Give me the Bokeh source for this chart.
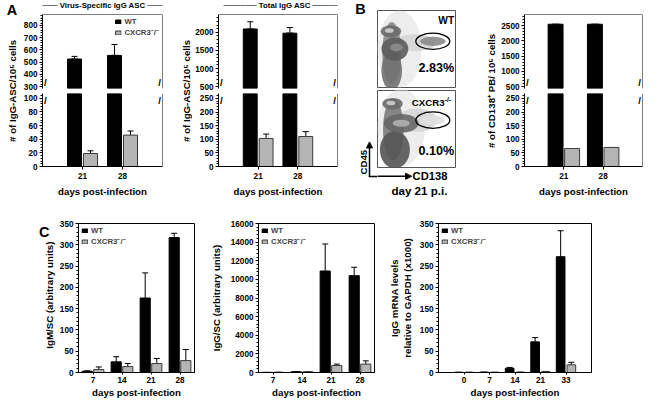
from bokeh.plotting import figure
from bokeh.models import (Range1d, FixedTicker, SingleIntervalTicker, Span, Label, Whisker,
                          TeeHead, Legend, LegendItem, ColumnDataSource, Arrow, NormalHead)
from bokeh.layouts import row, column
from bokeh.transform import dodge
from bokeh.embed import file_html
from bokeh.resources import INLINE

# ---------------- data ----------------
days_A = ["21", "28"]
a1_wt = [525, 555]
a1_wt_err = [22, 89]
a1_ko = [19, 46]
a1_ko_err = [4, 6]

a2_wt = [2090, 1975]
a2_wt_err = [200, 155]
a2_ko = [103, 110]
a2_ko_err = [16, 18]

b_wt = [2550, 2550]
b_ko = [66, 70]

flow_groups = ["WT", "CXCR3"]
flow_pct = ["2.83%", "0.10%"]

days_C = ["7", "14", "21", "28"]
c1_wt = [3, 25, 175, 317]
c1_wt_err = [1, 12, 59, 10]
c1_ko = [7, 14, 21, 28]
c1_ko_err = [6, 7, 12, 26]

c2_wt = [10, 80, 10900, 10400]
c2_wt_err = [5, 20, 2900, 900]
c2_ko = [20, 80, 750, 900]
c2_ko_err = [10, 20, 150, 350]

days_C3 = ["0", "7", "14", "21", "33"]
c3_wt = [0.5, 0.8, 10, 72, 272]
c3_wt_err = [0, 0, 2, 10, 61]
c3_ko = [0.5, 0.5, 0.8, 2, 18]
c3_ko_err = [0, 0, 0, 0.5, 6]

# flow cytometry density blobs (CD138 on x, CD45 on y, 0-100 scale)
wt_blob_x = [28, 48, 18, 18, 22, 24, 17, 15, 70]
wt_blob_y = [50, 58, 45, 22, 50, 52, 73, 74, 60]
wt_blob_w = [56, 52, 24, 26, 34, 16, 26, 11, 32]
wt_blob_h = [100, 22, 80, 50, 30, 10, 16, 6, 12]
wt_blob_c = ["#ebebeb", "#d5d5d5", "#8a8a8a", "#707070", "#5c5c5c", "#8c8c8c", "#6a6a6a",
             "#cfcfcf", "#8a8a8a"]

ko_blob_x = [30, 50, 20, 22, 30, 30, 19, 17, 70]
ko_blob_y = [52, 62, 50, 24, 58, 58, 83, 84, 62]
ko_blob_w = [60, 50, 26, 38, 44, 22, 26, 11, 30]
ko_blob_h = [100, 30, 80, 48, 24, 9, 15, 6, 12]
ko_blob_c = ["#ebebeb", "#d6d6d6", "#7a7a7a", "#555555", "#666666", "#b0b0b0", "#6a6a6a",
             "#cfcfcf", "#e0e0e0"]

gate_x = [70]
gate_y_wt = [60]
gate_y_ko = [62]
gate_w = [43]
gate_h = [21]

# ---------------- geometry / style helpers ----------------
SX = 648 / 664
SY = 400 / 416
FS = 0.97
FONT = "Liberation Sans"
GRAY = "#b4b4b4"
EDGE = "#3a3a3a"


def X(v):
    return round(v * SX)


def Y(v):
    return round(v * SY)


def F(v):
    return f"{v * FS:.1f}px"


def make_fig(x0, x1, y0, y1, fx0, fx1, fy0, fy1, **kw):
    p = figure(width=X(x1) - X(x0), height=Y(y1) - Y(y0),
               min_border_left=X(fx0) - X(x0), min_border_right=X(x1) - X(fx1),
               min_border_top=Y(fy0) - Y(y0), min_border_bottom=Y(y1) - Y(fy1),
               toolbar_location=None, output_backend="svg", **kw)
    p.outline_line_color = None
    p.grid.visible = False
    p.background_fill_color = "white"
    p.border_fill_color = "white"
    return p


def text_fig(x0, x1, y0, y1):
    p = figure(width=X(x1) - X(x0), height=Y(y1) - Y(y0),
               x_range=Range1d(x0, x1), y_range=Range1d(y1, y0),
               min_border_left=0, min_border_right=0, min_border_top=0, min_border_bottom=0,
               x_axis_location=None, y_axis_location=None,
               toolbar_location=None, output_backend="svg")
    p.outline_line_color = None
    p.grid.visible = False
    return p


def add_text(p, x, y, text, size, angle=0, align="center", baseline="middle",
             x_offset=0, y_offset=0):
    p.add_layout(Label(x=x, y=y, text=text, angle=angle, angle_units="deg",
                       text_align=align, text_baseline=baseline,
                       x_offset=x_offset, y_offset=y_offset,
                       text_font=FONT, text_font_style="bold",
                       text_font_size=F(size), text_color="black"))


def style_axis(ax, tick_out=3, standoff=2, label_standoff=4):
    ax.axis_line_color = "black"
    ax.axis_line_width = 1
    ax.major_tick_line_color = "black"
    ax.minor_tick_line_color = "black"
    ax.major_tick_in = 0
    ax.major_tick_out = tick_out
    ax.minor_tick_in = 0
    ax.minor_tick_out = 2
    ax.major_label_standoff = standoff
    ax.major_label_text_font = FONT
    ax.major_label_text_font_style = "bold"
    ax.major_label_text_font_size = F(8.5)
    ax.major_label_text_color = "black"
    ax.axis_label_text_font = FONT
    ax.axis_label_text_font_style = "bold"
    ax.axis_label_text_font_size = F(10)
    ax.axis_label_text_color = "black"
    ax.axis_label_standoff = label_standoff


def draw_wt(p, src, width, off):
    return p.vbar(x=dodge("x", -off), top="wt", bottom=0, width=width, source=src,
                  fill_color="black", line_color="black", line_width=1)


def draw_ko(p, src, width, off):
    return p.vbar(x=dodge("x", off), top="ko", bottom=0, width=width, source=src,
                  fill_color=GRAY, line_color=EDGE, line_width=1)


def draw_err(p, xs, vals, errs, off):
    src = ColumnDataSource(dict(x=[x + off for x in xs], lo=vals,
                                hi=[v + e for v, e in zip(vals, errs)]))
    p.add_layout(Whisker(base="x", lower="lo", upper="hi", source=src, dimension="height",
                         line_color="black", line_width=1,
                         upper_head=TeeHead(size=6, line_color="black", line_width=1),
                         lower_head=None))


def add_legend(p, r_wt, r_ko, loc):
    leg = Legend(items=[LegendItem(label="WT", renderers=[r_wt]),
                        LegendItem(label="CXCR3\u207b/\u207b", renderers=[r_ko])],
                 location=loc, border_line_color=None, background_fill_alpha=0,
                 label_text_font=FONT, label_text_font_style="bold",
                 label_text_font_size=F(8), glyph_width=7, glyph_height=5,
                 label_height=8, label_standoff=3, spacing=1, padding=2, margin=3)
    p.add_layout(leg)


def broken(x0, x1, fx0, fx1, labels, up_rng, lo_rng, up_step, lo_step, wt, ko,
           width, off, wt_err=None, ko_err=None, title=None, legend=False):
    xs = list(range(1, len(labels) + 1))
    x_end = len(labels) + 1
    src = ColumnDataSource(dict(x=xs, wt=wt, ko=ko))
    up = make_fig(x0, x1, 15, 95, fx0, fx1, 15, 91, x_range=Range1d(0, x_end),
                  y_range=Range1d(*up_rng), x_axis_location=None)
    lo = make_fig(x0, x1, 95, 212, fx0, fx1, 97, 173, x_range=Range1d(0, x_end),
                  y_range=Range1d(*lo_rng))
    for p, step in ((up, up_step), (lo, lo_step)):
        p.yaxis.ticker = SingleIntervalTicker(interval=step, num_minor_ticks=5)
        style_axis(p.yaxis[0])
        p.add_layout(Span(location=x_end, dimension="height", line_color="black", line_width=1))
    up.add_layout(Span(location=up_rng[1], dimension="width", line_color="black", line_width=1))
    lo.xaxis.ticker = FixedTicker(ticks=xs)
    lo.xaxis.major_label_overrides = {x: l for x, l in zip(xs, labels)}
    lo.xaxis.axis_label = "days post-infection"
    style_axis(lo.xaxis[0], tick_out=3, standoff=3, label_standoff=4)

    # legend key for the knockout series: a flat bar hidden under the WT bar tops
    r_ko_key = up.vbar(x=dodge("x", -off), top="wt", bottom="wt", width=width * 0.5,
                       source=src, fill_color=GRAY, line_color=EDGE, line_width=1)
    r_wt = draw_wt(up, src, width, off)
    draw_wt(lo, src, width, off)
    draw_ko(lo, src, width, off)
    if wt_err is not None:
        draw_err(up, xs, wt, wt_err, -off)
    if ko_err is not None:
        draw_err(lo, xs, ko, ko_err, off)
    if legend:
        add_legend(up, r_wt, r_ko_key, "top_right")
    for xv, al, dx in ((0, "left", 1.5), (x_end, "right", -1.5)):
        add_text(up, xv, up_rng[0], "/", 10, align=al, baseline="bottom",
                 x_offset=dx, y_offset=1)
        add_text(lo, xv, lo_rng[1], "/", 10, align=al, baseline="top",
                 x_offset=dx, y_offset=-1)
    head = text_fig(x0, x1, 0, 15)
    if title:
        add_text(head, title[1], 5.5, title[0], 8)
    return column(head, up, lo)


# ---------------- top row ----------------
labA1 = text_fig(0, 21, 0, 212)
add_text(labA1, 12, 10, "A", 15)
add_text(labA1, 13, 94, "# of IgG-ASC/10\u2075 cells", 10, angle=90)

A1 = broken(21, 182, 40, 166, days_A, (284, 890), (0, 107), 100, 20,
            a1_wt, a1_ko, 0.35, 0.2, a1_wt_err, a1_ko_err,
            title=("\u2500\u2500\u2500 Virus-Specific IgG ASC \u2500\u2500\u2500", 101.5),
            legend=True)

labA2 = text_fig(182, 197, 0, 212)
add_text(labA2, 191, 94, "# of IgG-ASC/10\u2075 cells", 10, angle=90)

A2 = broken(197, 355, 222, 345, days_A, (450, 2490), (0, 268), 500, 50,
            a2_wt, a2_ko, 0.35, 0.2, a2_wt_err, a2_ko_err,
            title=("\u2500\u2500\u2500\u2500\u2500\u2500 Total IgG ASC "
                   "\u2500\u2500\u2500\u2500\u2500\u2500", 285))

# flow cytometry panels
stripB = text_fig(355, 386, 0, 212)
add_text(stripB, 369, 9, "B", 15)
add_text(stripB, 372, 168, "CD45", 10, angle=90)
stripB.add_layout(Arrow(x_start=378, y_start=183.5, x_end=378, y_end=147,
                        end=NormalHead(size=6, fill_color="black", line_color="black"),
                        line_color="black", line_width=1.5))
stripB.add_layout(Arrow(x_start=377.3, y_start=183, x_end=386, y_end=183, end=None,
                        line_color="black", line_width=1.5))

fw = make_fig(386, 467, 0, 92, 386, 467, 10, 90, x_range=Range1d(0, 100),
              y_range=Range1d(0, 100), x_axis_location=None, y_axis_location=None)
fk = make_fig(386, 467, 92, 175, 386, 467, 94, 175, x_range=Range1d(0, 100),
              y_range=Range1d(0, 100), x_axis_location=None, y_axis_location=None)
for p, bx, by, bw, bh, bc, gy in (
        (fw, wt_blob_x, wt_blob_y, wt_blob_w, wt_blob_h, wt_blob_c, gate_y_wt),
        (fk, ko_blob_x, ko_blob_y, ko_blob_w, ko_blob_h, ko_blob_c, gate_y_ko)):
    p.outline_line_color = "#555555"
    src = ColumnDataSource(dict(x=bx, y=by, w=bw, h=bh, c=bc))
    p.ellipse(x="x", y="y", width="w", height="h", fill_color="c", fill_alpha=0.9,
              line_color=None, source=src)
    p.ellipse(x=gate_x, y=gy, width=gate_w, height=gate_h, fill_color=None,
              line_color="black", line_width=1.3)

add_text(fw, 97, 87, flow_groups[0], 10.5, align="right")
add_text(fw, 97, 25, flow_pct[0], 13, align="right")
add_text(fk, 85, 85, flow_groups[1], 10, align="right")
add_text(fk, 85, 89, "-/-", 7, align="left")
add_text(fk, 97, 22, flow_pct[1], 13, align="right")

fbot = text_fig(386, 467, 175, 212)
fbot.add_layout(Arrow(x_start=385, y_start=183, x_end=421, y_end=183,
                      end=NormalHead(size=6, fill_color="black", line_color="black"),
                      line_color="black", line_width=1.5))
add_text(fbot, 422, 183, "CD138", 11.5, align="left")
add_text(fbot, 429, 198, "day 21 p.i.", 12)
flow = column(fw, fk, fbot)

labB = text_fig(467, 510, 0, 212)
add_text(labB, 503, 94, "# of CD138\u207a PB/ 10\u2075 cells", 10, angle=90)

Bp = broken(510, 664, 537, 658, days_A, (440, 2870), (0, 268), 500, 50,
            b_wt, b_ko, 0.38, 0.21)

top = row(labA1, A1, labA2, A2, stripB, flow, labB, Bp)


# ---------------- bottom row ----------------
def c_panel(x0, x1, fx0, fx1, labels, y_end, step, wt, ko, wt_err, ko_err,
            width, off, ylabel, x_start, label_standoff):
    xs = list(range(1, len(labels) + 1))
    src = ColumnDataSource(dict(x=xs, wt=wt, ko=ko))
    p = make_fig(x0, x1, 212, 416, fx0, fx1, 232, 389,
                 x_range=Range1d(x_start, len(labels) + 1 - x_start),
                 y_range=Range1d(0, y_end))
    p.outline_line_color = "black"
    p.yaxis.ticker = SingleIntervalTicker(interval=step, num_minor_ticks=5)
    if ylabel:
        p.yaxis.axis_label = ylabel
    style_axis(p.yaxis[0], label_standoff=label_standoff)
    p.xaxis.ticker = FixedTicker(ticks=xs)
    p.xaxis.major_label_overrides = {x: l for x, l in zip(xs, labels)}
    p.xaxis.axis_label = "days post-infection"
    style_axis(p.xaxis[0], tick_out=2, standoff=2, label_standoff=1)
    r_wt = draw_wt(p, src, width, off)
    r_ko = draw_ko(p, src, width, off)
    draw_err(p, xs, wt, wt_err, -off)
    draw_err(p, xs, ko, ko_err, off)
    add_legend(p, r_wt, r_ko, "top_left")
    return p


stripC = text_fig(0, 57, 212, 416)
add_text(stripC, 44.5, 224, "C", 15)
add_text(stripC, 49.5, 310, "IgM/SC (arbitrary units)", 10, angle=90)

C1 = c_panel(57, 212, 78, 199, days_C, 350, 50, c1_wt, c1_ko, c1_wt_err, c1_ko_err,
             0.35, 0.2, None, 0.5, 4)
C2 = c_panel(212, 395, 262, 383, days_C, 16000, 2000, c2_wt, c2_ko, c2_wt_err, c2_ko_err,
             0.35, 0.2, "IgG/SC (arbitrary units)", 0.5, 6)
C3 = c_panel(395, 664, 447, 606, days_C3, 350, 50, c3_wt, c3_ko, c3_wt_err, c3_ko_err,
             0.34, 0.21, "IgG mRNA levels\nrelative to GAPDH (x1000)", 0, 4)

bottom = row(stripC, C1, C2, C3)
layout = column(top, bottom)

open("out.html", "w").write(file_html(layout, INLINE))
